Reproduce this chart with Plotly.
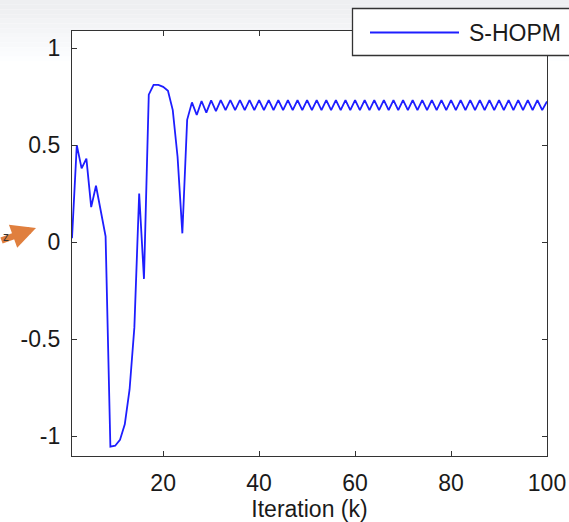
import plotly.graph_objects as go

# ---------------- data ----------------
series_name = "S-HOPM"
x_title = "Iteration (k)"
iterations = list(range(1, 101))
values = [
    0.02, 0.50, 0.38, 0.43, 0.18, 0.29, 0.16, 0.03, -1.055, -1.05,
    -1.02, -0.94, -0.76, -0.44, 0.25, -0.19, 0.76, 0.81, 0.81, 0.80,
    0.78, 0.68, 0.44, 0.045, 0.63, 0.72, 0.655, 0.727, 0.667, 0.73,
    0.675, 0.732, 0.68, 0.732, 0.68, 0.732, 0.68, 0.732, 0.68, 0.732,
    0.68, 0.732, 0.68, 0.732, 0.68, 0.732, 0.68, 0.732, 0.68, 0.732,
    0.68, 0.732, 0.68, 0.732, 0.68, 0.732, 0.68, 0.732, 0.68, 0.732,
    0.68, 0.732, 0.68, 0.732, 0.68, 0.732, 0.68, 0.732, 0.68, 0.732,
    0.68, 0.732, 0.68, 0.732, 0.68, 0.732, 0.68, 0.732, 0.68, 0.732,
    0.68, 0.732, 0.68, 0.732, 0.68, 0.732, 0.68, 0.732, 0.68, 0.732,
    0.68, 0.732, 0.68, 0.732, 0.68, 0.732, 0.68, 0.732, 0.68, 0.725,
]
x_ticks = [20, 40, 60, 80, 100]
y_ticks = [-1, -0.5, 0, 0.5, 1]
y_tick_labels = ["-1", "-0.5", "0", "0.5", "1"]

# ---------------- layout helpers ----------------
W, H = 569, 522
ML, MR, MT, MB = 72, 22, 31, 66
PW, PH = W - ML - MR, H - MT - MB


def px(x):
    return (x - ML) / PW


def py(y):
    return (H - MB - y) / PH


FONT = "Liberation Sans, Arial, sans-serif"
AX = "#333333"
BLUE = "rgb(30,30,255)"

fig = go.Figure()
fig.add_trace(go.Scatter(
    x=iterations, y=values, mode="lines", name=series_name,
    line=dict(color=BLUE, width=1.8), showlegend=False,
))

shapes = []
# light slide-like gradient at the top (outside plot area)
n = 14
for i in range(n):
    y0, y1 = i * 66 / n, (i + 1) * 66 / n
    g = int(238 + (255 - 238) * (i / (n - 1)) ** 1.2)
    col = f"rgb({g},{min(255, g + 1)},{min(255, g + 3)})"
    if y1 <= MT:
        shapes.append(dict(type="rect", xref="paper", yref="paper",
                           x0=px(0), x1=px(W), y0=py(y1), y1=py(y0),
                           fillcolor=col, line=dict(width=0), layer="below"))
    else:
        top = max(y0, 0)
        if y0 < MT:
            shapes.append(dict(type="rect", xref="paper", yref="paper",
                               x0=px(0), x1=px(W), y0=py(MT), y1=py(y0),
                               fillcolor=col, line=dict(width=0), layer="below"))
            top = MT
        for xa, xb in ((0, ML), (ML + PW, W)):
            shapes.append(dict(type="rect", xref="paper", yref="paper",
                               x0=px(xa), x1=px(xb), y0=py(y1), y1=py(top),
                               fillcolor=col, line=dict(width=0), layer="below"))

# manual legend box (extends past the right edge as in the reference)
shapes.append(dict(type="rect", xref="paper", yref="paper",
                   x0=px(352.5), x1=px(620), y0=py(55.5), y1=py(8.5),
                   fillcolor="white", line=dict(color=AX, width=1.3), layer="above"))
shapes.append(dict(type="line", xref="paper", yref="paper",
                   x0=px(370), x1=px(459), y0=py(32.5), y1=py(32.5),
                   line=dict(color=BLUE, width=1.8), layer="above"))

annotations = [
    dict(xref="paper", yref="paper", x=px(467), y=py(33), text=series_name,
         showarrow=False, xanchor="left", yanchor="middle",
         font=dict(family=FONT, size=23, color="#1a1a1a")),
    dict(xref="paper", yref="paper", x=px(36), y=py(228), text="",
         showarrow=True, ax=-50, ay=13, arrowcolor="#E07F3E",
         arrowwidth=6.5, arrowhead=2, arrowsize=0.75, standoff=0),
    dict(xref="paper", yref="paper", x=px(1), y=py(237), text="z",
         showarrow=False, xanchor="left", yanchor="middle",
         font=dict(family=FONT, size=12, color="#333333")),
]

fig.update_layout(
    width=W, height=H,
    margin=dict(l=ML, r=MR, t=MT, b=MB, pad=0, autoexpand=False),
    paper_bgcolor="white", plot_bgcolor="white",
    font=dict(family=FONT, size=23, color="#1a1a1a"),
    shapes=shapes, annotations=annotations,
    xaxis=dict(
        range=[1, 100], tickvals=x_ticks, ticktext=[str(v) for v in x_ticks],
        ticks="inside", ticklen=5, tickwidth=1, tickcolor=AX,
        showline=True, linecolor=AX, linewidth=1.3, mirror="ticks",
        showgrid=False, zeroline=False, automargin=False,
        title=dict(text=x_title, standoff=8, font=dict(size=23)),
        tickfont=dict(size=23), ticklabelstandoff=6,
    ),
    yaxis=dict(
        range=[-1.103, 1.088], tickvals=y_ticks, ticktext=y_tick_labels,
        ticks="inside", ticklen=5, tickwidth=1, tickcolor=AX,
        showline=True, linecolor=AX, linewidth=1.3, mirror="ticks",
        showgrid=False, zeroline=False, automargin=False,
        tickfont=dict(size=23), ticklabelstandoff=6,
    ),
)

fig.write_html("out.html")
